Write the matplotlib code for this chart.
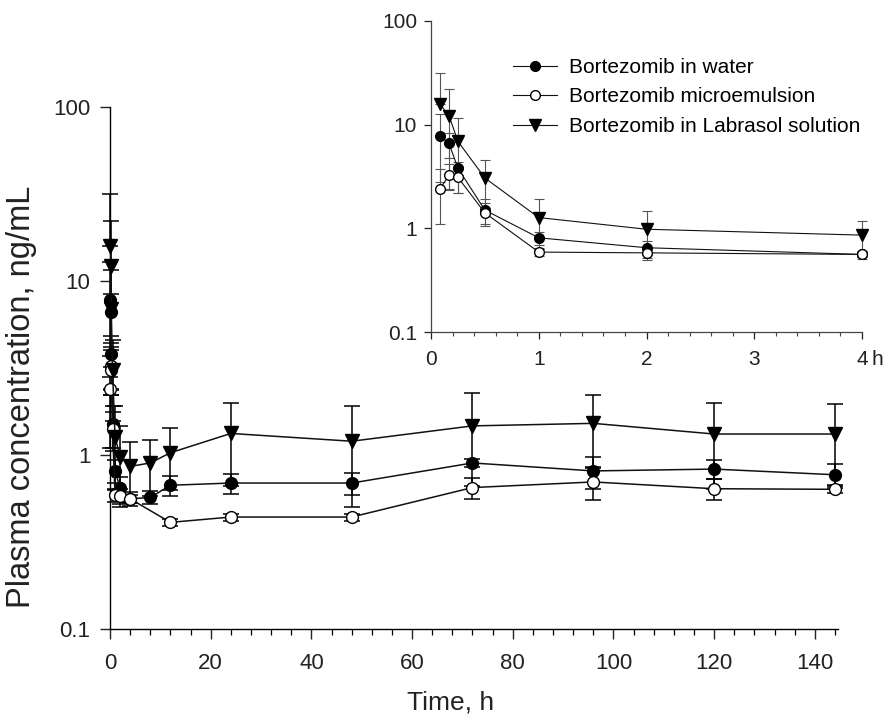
import numpy as np
import matplotlib
matplotlib.use("Agg")
import matplotlib.pyplot as plt
from matplotlib.ticker import MultipleLocator, NullLocator, FixedLocator

plt.rcParams['font.family'] = ['Liberation Sans', 'DejaVu Sans']

# --- DATA ---
time_h = [0.083, 0.167, 0.25, 0.5, 1, 2, 4, 8, 12, 24, 48, 72, 96, 120, 144]
time_micro = [0.083, 0.167, 0.25, 0.5, 1, 2, 4, 12, 24, 48, 72, 96, 120, 144]

water_mean = [7.8, 6.6, 3.8, 1.5, 0.81, 0.65, 0.56, 0.57, 0.67, 0.69, 0.69, 0.90, 0.81, 0.83, 0.77]
water_sd = [5.0, 1.8, 0.6, 0.4, 0.12, 0.10, 0.05, 0.05, 0.09, 0.09, 0.10, 0.05, 0.17, 0.10, 0.12]

micro_mean = [2.4, 3.25, 3.1, 1.41, 0.59, 0.58, 0.56, 0.41, 0.44, 0.44, 0.65, 0.70, 0.64, 0.635]
micro_sd = [1.3, 0.9, 0.9, 0.35, 0.05, 0.06, 0.03, 0.02, 0.02, 0.02, 0.09, 0.15, 0.09, 0.03]

labrasol_mean = [15.8, 12.2, 6.9, 3.06, 1.27, 0.98, 0.86, 0.90, 1.03, 1.33, 1.20, 1.47, 1.52, 1.32, 1.32]
labrasol_sd = [16.0, 9.8, 4.7, 1.5, 0.64, 0.48, 0.33, 0.32, 0.40, 0.67, 0.70, 0.81, 0.68, 0.68, 0.65]

labels = ["Bortezomib in water", "Bortezomib microemulsion", "Bortezomib in Labrasol solution"]

series = [
    (time_h, water_mean, water_sd, dict(marker="o", mfc="black", mec="black")),
    (time_micro, micro_mean, micro_sd, dict(marker="o", mfc="white", mec="black")),
    (time_h, labrasol_mean, labrasol_sd, dict(marker="v", mfc="black", mec="black")),
]


def draw(ax, tmax, lw, ecol, cap, ms_circle, ms_tri, add_labels=False):
    for (t, m, sd, style), lab in zip(series, labels):
        t = np.array(t); m = np.array(m); sd = np.array(sd)
        keep = t <= tmax
        t, m, sd = t[keep], m[keep], sd[keep]
        # no lower bar when mean - SD would go below zero (log axis)
        lower = np.where(m - sd > 0, sd, 0)
        ax.errorbar(t, m, yerr=[lower, sd], fmt="none", ecolor=ecol, elinewidth=lw,
                    capsize=cap, capthick=lw, zorder=2, clip_on=False)
        ms = ms_tri if style["marker"] == "v" else ms_circle
        ax.plot(t, m, color="#111111", lw=lw, ms=ms, mew=1.0, zorder=3, clip_on=False,
                label=lab if add_labels else None, **style)


fig = plt.figure(figsize=(8.85, 7.21), dpi=100)

# --- main axes ---
ax = fig.add_axes([110 / 885, 92 / 721, 728 / 885, 522 / 721])
draw(ax, 200, 1.1, "black", 5.5, 8.5, 10.5)
ax.set_yscale("log")
ax.set_ylim(0.1, 100)
ax.set_xlim(0, 144.6)
ax.yaxis.set_major_locator(FixedLocator([0.1, 1, 10, 100]))
ax.set_yticklabels(["0.1", "1", "10", "100"])
ax.yaxis.set_minor_locator(NullLocator())
ax.xaxis.set_major_locator(FixedLocator(list(range(0, 141, 20))))
ax.xaxis.set_minor_locator(MultipleLocator(4))
for s in ["top", "right"]:
    ax.spines[s].set_visible(False)
for s in ["left", "bottom"]:
    ax.spines[s].set_linewidth(1.0)
ax.tick_params(which="major", direction="out", length=7, width=1.0, labelsize=16,
               colors="#222222", pad=7)
ax.tick_params(axis="x", which="major", pad=10)
ax.tick_params(which="minor", direction="out", length=4, width=0.9)
ax.set_xlabel("Time, h", fontsize=19, color="#222222")
ax.set_ylabel("Plasma concentration, ng/mL", fontsize=23.5, color="#222222")
ax.xaxis.set_label_coords(0.468, -0.117)
ax.yaxis.set_label_coords(-0.1, 0.444)

# --- inset ---
ins = fig.add_axes([431 / 885, 389 / 721, 431 / 885, 311 / 721])
ins.patch.set_alpha(0)
draw(ins, 4, 0.8, "#555555", 3.5, 7, 8.5, add_labels=True)
ins.set_yscale("log")
ins.set_ylim(0.1, 100)
ins.set_xlim(0, 4)
ins.yaxis.set_major_locator(FixedLocator([0.1, 1, 10, 100]))
ins.set_yticklabels(["0.1", "1", "10", "100"])
ins.yaxis.set_minor_locator(NullLocator())
ins.xaxis.set_major_locator(FixedLocator([0, 1, 2, 3, 4]))
ins.set_xticklabels(["0", "1", "2", "3", "4"])
ins.xaxis.set_minor_locator(MultipleLocator(0.2))
for s in ["top", "right"]:
    ins.spines[s].set_visible(False)
for s in ["left", "bottom"]:
    ins.spines[s].set_linewidth(0.9)
    ins.spines[s].set_color("#444444")
ins.tick_params(which="major", direction="out", length=5, width=0.9, labelsize=15,
                colors="#222222", pad=5)
ins.tick_params(axis="x", which="major", pad=8)
ins.tick_params(which="minor", direction="out", length=3, width=0.8, color="#444444")
ins.annotate("h", xy=(4, 0), xycoords=("data", "axes fraction"), xytext=(7, -13),
             textcoords="offset points", fontsize=15, color="#222222", va="top", ha="left")

leg = ins.legend(loc="upper left", bbox_to_anchor=(513 / 885, 1 - 58 / 721),
                 bbox_transform=fig.transFigure, frameon=False, fontsize=15,
                 handlelength=2.1, handletextpad=0.6, labelspacing=0.5,
                 borderpad=0, borderaxespad=0)

fig.savefig("out.png", dpi=100)
